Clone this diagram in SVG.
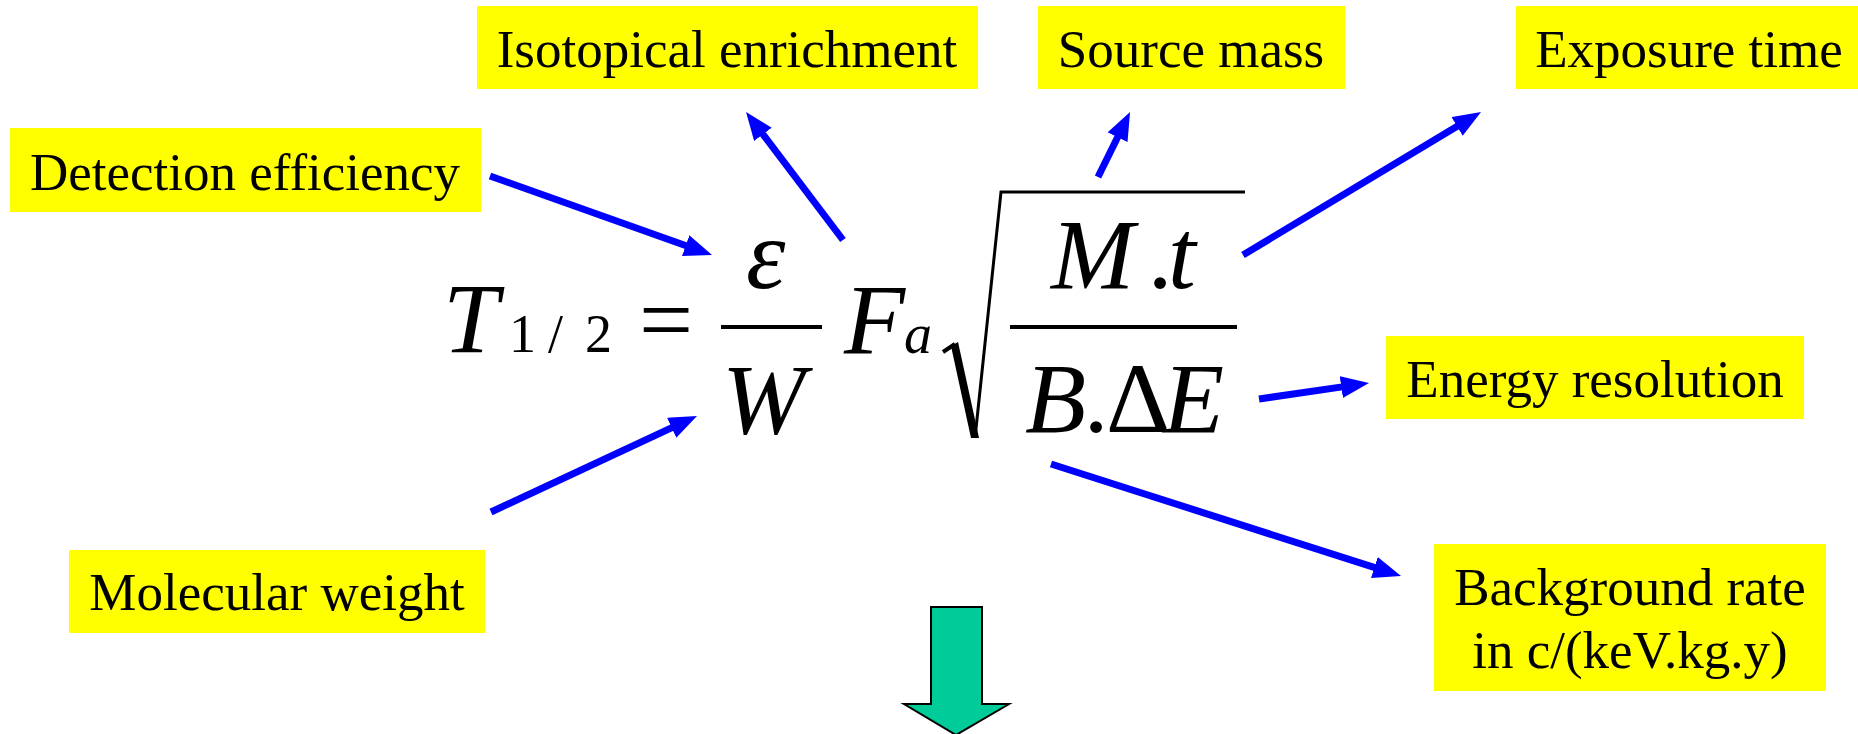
<svg xmlns="http://www.w3.org/2000/svg" width="1858" height="734" viewBox="0 0 1858 734">
<style>
.box{fill:#FFFF00}
.lbl{font-family:"Liberation Serif","Times New Roman",serif;font-size:53px;fill:#000;text-anchor:middle}
.m{font-family:"Liberation Serif","Times New Roman",serif;font-size:100px;font-style:italic;fill:#000}
.sub{font-family:"Liberation Serif","Times New Roman",serif;font-size:56px;font-style:italic;fill:#000}
.mu{font-family:"Liberation Serif","Times New Roman",serif;fill:#000}
.con{stroke:#0000FF;stroke-width:7;fill:none;marker-end:url(#ah)}
.rule{stroke:#000;fill:none}
</style>
<defs>
<marker id="ah" markerUnits="userSpaceOnUse" viewBox="0 0 28 22" markerWidth="28" markerHeight="22" refX="8" refY="11" orient="auto">
<path d="M0,0 L28,11 L0,22 Z" fill="#0000FF"/>
</marker>
</defs>
<rect width="1858" height="734" fill="#FFFFFF"/>

<g id="isotopical">
<rect class="box" x="477" y="6" width="501" height="83"/>
<text class="lbl" x="727" y="67">Isotopical enrichment</text>
</g>
<g id="detection">
<rect class="box" x="10" y="128" width="471" height="84"/>
<text class="lbl" x="245" y="190">Detection efficiency</text>
</g>
<g id="sourcemass">
<rect class="box" x="1038" y="6" width="307" height="83"/>
<text class="lbl" x="1191" y="67">Source mass</text>
</g>
<g id="exposure">
<rect class="box" x="1516" y="6" width="342" height="83"/>
<text class="lbl" x="1689" y="67">Exposure time</text>
</g>
<g id="energy">
<rect class="box" x="1386" y="336" width="418" height="83"/>
<text class="lbl" x="1595" y="397">Energy resolution</text>
</g>
<g id="background">
<rect class="box" x="1434" y="544" width="392" height="147"/>
<text class="lbl" x="1630" y="605">Background rate</text>
<text class="lbl" x="1630" y="668">in c/(keV.kg.y)</text>
</g>
<g id="molecular">
<rect class="box" x="69" y="550" width="416" height="83"/>
<text class="lbl" x="277" y="610">Molecular weight</text>
</g>

<g id="formula">
<text class="m" x="443" y="352">T</text>
<text class="mu" font-size="54" y="352"><tspan x="509">1</tspan><tspan x="548">/</tspan><tspan x="585">2</tspan></text>
<text class="mu" font-size="96" x="639" y="352">=</text>
<text class="m" x="746" y="288">ε</text>
<line class="rule" stroke-width="4" x1="721" y1="327" x2="822" y2="327"/>
<text class="m" x="722" y="433">W</text>
<text class="m" x="844" y="353">F</text>
<text class="sub" x="904" y="353">a</text>
<path d="M943,352 L955,344" stroke="#000" stroke-width="4" fill="none"/>
<polygon points="951,346 958,342 979,438 971,438" fill="#000"/>
<path d="M975,438 L1001,192 L1245,192" stroke="#000" stroke-width="3" fill="none"/>
<text class="m" y="288"><tspan x="1051">M</tspan><tspan x="1150">.</tspan><tspan x="1168">t</tspan></text>
<line class="rule" stroke-width="4" x1="1010" y1="327" x2="1237" y2="327"/>
<text class="m" y="432"><tspan x="1025">B</tspan><tspan x="1086">.</tspan><tspan x="1106" font-style="normal">Δ</tspan><tspan x="1163">E</tspan></text>
</g>

<g id="connectors">
<line class="con" x1="490" y1="176" x2="693.2" y2="248.3"/>
<line class="con" x1="843" y1="240" x2="758.1" y2="127.9"/>
<line class="con" x1="1098" y1="177" x2="1121.2" y2="130"/>
<line class="con" x1="1243" y1="255" x2="1463.9" y2="122.3"/>
<line class="con" x1="1259" y1="399" x2="1349.2" y2="385.9"/>
<line class="con" x1="1051" y1="464" x2="1382" y2="569.9"/>
<line class="con" x1="491" y1="512" x2="678.9" y2="424.4"/>
</g>

<g id="downarrow">
<polygon points="931,607 982,607 982,704 1009,704 956,735 904,704 931,704" fill="#00CC99" stroke="#000" stroke-width="2"/>
</g>
</svg>
